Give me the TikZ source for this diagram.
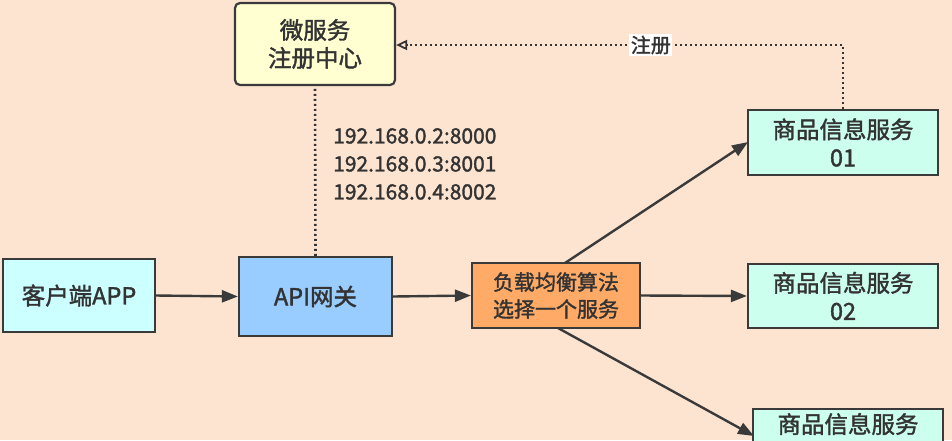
\documentclass[tikz,border=0pt]{standalone}
\usepackage{fontspec}
\setmainfont{Noto Sans CJK SC}[FakeBold=1.6]
\usetikzlibrary{arrows.meta}
\definecolor{bgc}{HTML}{FDE4D0}
\definecolor{edge}{HTML}{3A3A3A}
\definecolor{regc}{HTML}{FFFFD2}
\definecolor{clic}{HTML}{CCFFFF}
\definecolor{apic}{HTML}{99CCFF}
\definecolor{lbc}{HTML}{FFAA66}
\definecolor{svc}{HTML}{CCFFEE}
\definecolor{txt}{HTML}{333333}
\tikzset{
  box/.style={draw=edge, line width=2.2pt, align=center, text=txt, font=\fontsize{23.5}{28}\selectfont, inner sep=0pt},
  flow/.style={draw=edge, line width=2.4pt, -{Triangle[length=16pt,width=12pt]}},
  dots/.style={draw=edge!90!black, line width=2.6pt, dash pattern=on 2pt off 3pt},
}
\begin{document}
\begin{tikzpicture}[x=1pt,y=-1pt]
\useasboundingbox (0,0) rectangle (952,440);
\clip (0,0) rectangle (952,440);
\fill[bgc] (0,0) rectangle (952,440);

\node[box, fill=regc, rounded corners=5pt, minimum width=160pt, minimum height=82pt] (reg) at (315,44) {微服务\\注册中心};
\node[box, fill=clic, minimum width=152pt, minimum height=73pt] (cli) at (79,295.5) {客户端APP};
\node[box, fill=apic, minimum width=153pt, minimum height=79pt] (api) at (315.5,296.5) {API网关};
\node[box, fill=lbc, minimum width=168pt, minimum height=65pt, font=\fontsize{21}{27}\selectfont] (lb) at (556,295.5) {负载均衡算法\\选择一个服务};
\node[box, fill=svc, minimum width=190pt, minimum height=65pt] (s1) at (843,142.5) {商品信息服务\\01};
\node[box, fill=svc, minimum width=190pt, minimum height=64pt] (s2) at (843,296) {商品信息服务\\02};
\node[box, fill=svc, minimum width=190pt, anchor=north, text depth=48pt, inner ysep=4pt] (s3) at (848,408) {商品信息服务};

\node[align=left, text=txt, anchor=north west, font=\fontsize{21}{28}\selectfont, inner sep=0pt] (ips) at (333,128) {192.168.0.2:8000\\192.168.0.3:8001\\192.168.0.4:8002};

\draw[flow] (cli.east) -- (api.west);
\draw[flow] (api.east) -- (lb.west);
\draw[flow] (lb.east) -- (s2.west);
\draw[flow] (565,263) -- (748,142);
\draw[flow] (558,328) -- (754,436);

\draw[dots] (api.north) -- (reg.south);
\coordinate (c1) at (843,45);
\draw[dots, -{Triangle[open,length=11pt,width=10pt,line width=1.8pt]}] (s1.north) -- (c1) -- (reg.east |- c1)
  node[pos=0.43, fill=white, text=txt, inner sep=1.5pt, font=\fontsize{20}{24}\selectfont] (lbl) {注册};
\end{tikzpicture}
\end{document}
